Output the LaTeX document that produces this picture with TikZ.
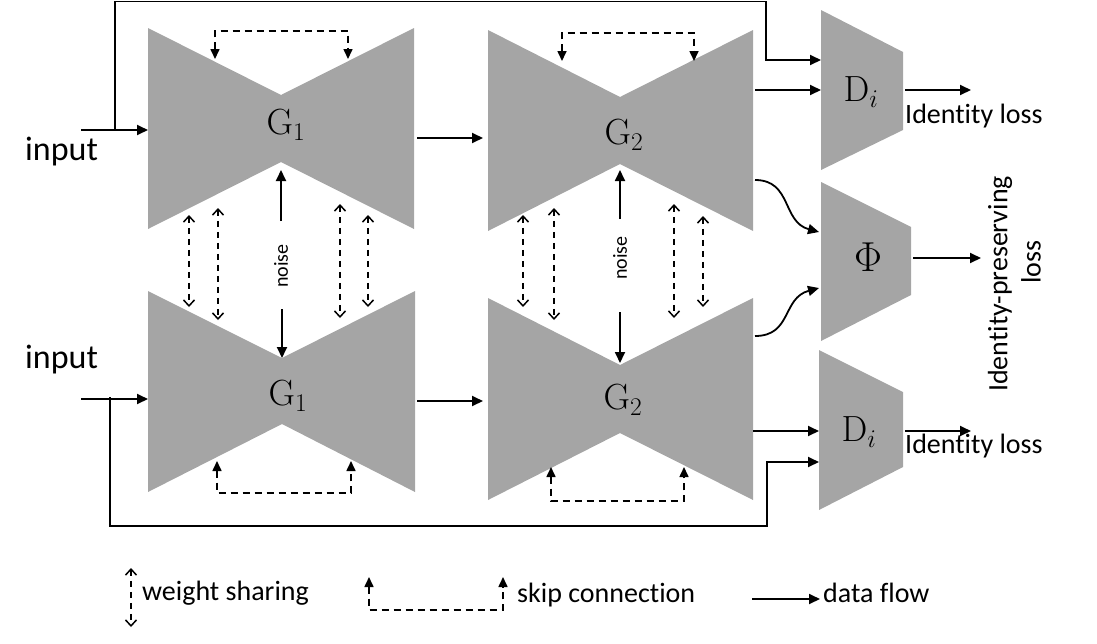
\documentclass[tikz,border=0pt]{standalone}
\usepackage{fix-cm}
\usepackage[no-math]{fontspec}
\setmainfont{Carlito}[Ligatures={NoCommon}]
\usetikzlibrary{arrows.meta}
\definecolor{blockgray}{RGB}{165,165,165}
\begin{document}
\begin{tikzpicture}[x=1pt,y=-1pt,
  block/.style={fill=blockgray},
  flow/.style={line width=1.8pt, -{Triangle[length=11pt,width=10pt]}},
  skipc/.style={line width=1.6pt, dash pattern=on 7pt off 5pt, {Triangle[length=10pt,width=9pt]}-{Triangle[length=10pt,width=9pt]}},
  skipl/.style={line width=1.6pt, dash pattern=on 7pt off 5pt, {Triangle[length=10pt,width=9pt]}-{Triangle[length=10pt,width=9pt]}},
  share/.style={line width=1.5pt, dash pattern=on 6pt off 5pt, {Straight Barb[length=6pt,width=11pt,line width=1.5pt]}-{Straight Barb[length=6pt,width=11pt,line width=1.5pt]}},
  mlbl/.style={inner sep=0pt, font=\fontsize{28}{34}\selectfont, scale=1.3},
  txt/.style={inner sep=0pt, font=\fontsize{28}{34}\selectfont},
  bigtxt/.style={inner sep=0pt, font=\fontsize{34}{40}\selectfont},
  smalltxt/.style={inner sep=0pt, font=\fontsize{20}{24}\selectfont}
]
\useasboundingbox (0,0) rectangle (1097,643);

% generators (bow ties)
\fill[block] (148,28) -- (281,95) -- (414,28) -- (414,229) -- (281,162) -- (148,229) -- cycle;
\fill[block] (488,30) -- (620,97) -- (753,30) -- (753,231) -- (620,164) -- (488,231) -- cycle;
\fill[block] (148,291) -- (282,358) -- (415,291) -- (415,492) -- (282,424) -- (148,492) -- cycle;
\fill[block] (488,298) -- (620,365) -- (753,298) -- (753,500) -- (620,433) -- (488,500) -- cycle;
% discriminators / Phi
\fill[block] (821,10) -- (903,52) -- (903,130) -- (821,170) -- cycle;
\fill[block] (821,182) -- (911,227) -- (911,295) -- (821,341) -- cycle;
\fill[block] (819,350) -- (903,392) -- (903,467) -- (819,510) -- cycle;

% labels
\node[mlbl] (g1a) at (286,125) {$\mathrm{G}_1$};
\node[mlbl] (g2a) at (624,135) {$\mathrm{G}_2$};
\node[mlbl] (g1b) at (288,396) {$\mathrm{G}_1$};
\node[mlbl] (g2b) at (623,400) {$\mathrm{G}_2$};
\node[mlbl] (da) at (861,92) {$\mathrm{D}_i$};
\node[mlbl, scale=1.15] (phi) at (868,257) {$\Phi$};
\node[mlbl] (db) at (859,432) {$\mathrm{D}_i$};

\node[bigtxt, anchor=base west] (in1) at (25,160) {input};
\node[bigtxt, anchor=base west] (in2) at (25,368) {input};
\node[txt, anchor=base west] (la) at (905,123) {Identity loss};
\node[txt, anchor=base west] (lb) at (905,453) {Identity loss};
\node[txt, rotate=90] (ip1) at (1000,284) {Identity-preserving};
\node[txt, rotate=90] (ip2) at (1031,262) {loss};
\node[smalltxt, rotate=90] (nz1) at (281,266) {noise};
\node[smalltxt, rotate=90] (nz2) at (620,258) {noise};

% coordinates for connectors
\coordinate (i1s) at (81,130);   \coordinate (g1aw) at (148,130);
\coordinate (i2s) at (81,399);   \coordinate (g1bw) at (148,399);
\coordinate (br1) at (115,130);  \coordinate (br2) at (110,397);
\coordinate (g1ae) at (417,138); \coordinate (g2aw) at (483,138);
\coordinate (g1be) at (417,401); \coordinate (g2bw) at (483,401);
\coordinate (g2ae) at (755,90);  \coordinate (daw) at (821,90);
\coordinate (daw2) at (821,60);
\coordinate (g2be) at (753,431); \coordinate (dbw) at (819,431);
\coordinate (dbw2) at (819,462);
\coordinate (g2ac) at (755,180); \coordinate (phiw1) at (819,232);
\coordinate (g2bc) at (755,336); \coordinate (phiw2) at (819,288);
\coordinate (dae) at (905,90);   \coordinate (lae) at (971,90);
\coordinate (dbe) at (905,431);  \coordinate (lbe) at (971,431);
\coordinate (phie) at (913,258); \coordinate (ipe) at (981,258);

% data flow
\draw[flow] (i1s) -- (g1aw);
\draw[flow] (i2s) -- (g1bw);
\draw[flow] (br1) -- (115,1.5) -| (766,60) -- (daw2);
\draw[flow] (br2) -- (110,526) -| (767,462) -- (dbw2);
\draw[flow] (g1ae) -- (g2aw);
\draw[flow] (g1be) -- (g2bw);
\draw[flow] (g2ae) -- (daw);
\draw[flow] (g2be) -- (dbw);
\draw[flow] (g2ac) .. controls (792,180) and (782,222) .. (phiw1);
\draw[flow] (g2bc) .. controls (792,336) and (782,298) .. (phiw2);
\draw[flow] (dae) -- (lae);
\draw[flow] (dbe) -- (lbe);
\draw[flow] (phie) -- (ipe);

% noise
\draw[flow] (281,221) -- (281,170);
\draw[flow] (282,309) -- (282,358);
\draw[flow] (620,219) -- (620,170);
\draw[flow] (620,312) -- (620,363);

% skip connections
\draw[skipc] (215,59) -- (215,31) -- (348,31) -- (348,59);
\draw[skipc] (562,61) -- (562,33) -- (694,33) -- (694,61);
\draw[skipc] (217,461) -- (217,493) -- (351,493) -- (351,461);
\draw[skipc] (551,467) -- (551,501) -- (684,501) -- (684,467);

% weight sharing
\draw[share] (189,215) -- (189,307);
\draw[share] (218,208) -- (218,320);
\draw[share] (340,204) -- (340,318);
\draw[share] (368,215) -- (368,307);
\draw[share] (523,215) -- (523,307);
\draw[share] (554,208) -- (554,320);
\draw[share] (674,204) -- (674,318);
\draw[share] (703,216) -- (703,307);

% legend
\draw[share] (131,568) -- (131,627);
\node[txt, anchor=base west] (lw) at (142,600) {weight sharing};
\draw[skipl] (369,577) -- (369,610) -- (503,610) -- (503,577);
\node[txt, anchor=base west] (ls) at (517,602) {skip connection};
\coordinate (dfs) at (752,599); \coordinate (dfe) at (820,599);
\draw[flow] (dfs) -- (dfe);
\node[txt, anchor=base west] (ld) at (823,602) {data flow};
\end{tikzpicture}
\end{document}
